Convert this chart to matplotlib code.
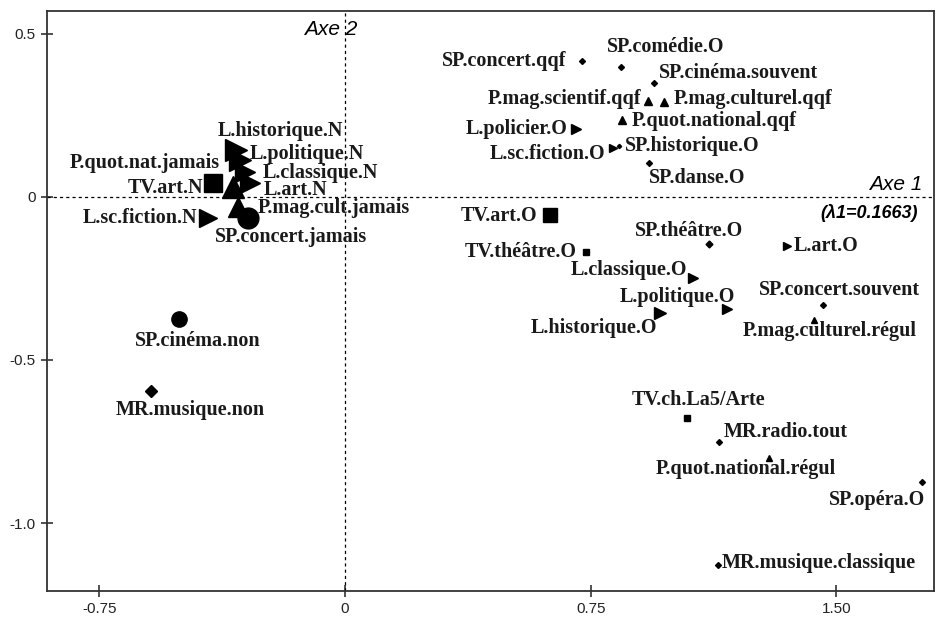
import matplotlib
matplotlib.use("Agg")
import matplotlib.pyplot as plt

# modalities and coordinates on the first factorial plane
names = ["SP.concert.qqf", "SP.comédie.O", "SP.cinéma.souvent", "P.mag.scientif.qqf",
         "P.mag.culturel.qqf", "P.quot.national.qqf", "L.policier.O", "L.sc.fiction.O",
         "SP.historique.O", "SP.danse.O", "TV.art.O", "TV.théâtre.O", "SP.théâtre.O",
         "L.art.O", "L.classique.O", "L.politique.O", "L.historique.O",
         "SP.concert.souvent", "P.mag.culturel.régul", "TV.ch.La5/Arte", "MR.radio.tout",
         "P.quot.national.régul", "SP.opéra.O", "MR.musique.classique",
         "SP.cinéma.non", "MR.musique.non",
         "L.historique.N", "L.politique.N", "L.classique.N", "L.art.N",
         "P.quot.nat.jamais", "TV.art.N", "P.mag.cult.jamais", "SP.concert.jamais",
         "L.sc.fiction.N"]
axe1 = [0.723, 0.843, 0.944, 0.926, 0.975, 0.845, 0.705, 0.819, 0.837, 0.929,
        0.626, 0.736, 1.112, 1.350, 1.061, 1.165, 0.962, 1.460, 1.433, 1.043,
        1.142, 1.294, 1.760, 1.138, -0.507, -0.592,
        -0.333, -0.321, -0.306, -0.290, -0.342, -0.403, -0.327, -0.296, -0.418]
axe2 = [0.417, 0.398, 0.349, 0.293, 0.290, 0.235, 0.207, 0.148, 0.155, 0.102,
        -0.056, -0.169, -0.146, -0.151, -0.248, -0.344, -0.357, -0.332, -0.378, -0.679,
        -0.751, -0.802, -0.875, -1.129, -0.376, -0.595,
        0.143, 0.112, 0.076, 0.042, 0.030, 0.042, -0.032, -0.065, -0.065]

# marker shape and size (points) per modality
markers = ["D", "D", "D", "^", "^", "^", ">", ">", "D", "D",
           "s", "s", "D", ">", ">", ">", ">", "D", "^", "s",
           "D", "^", "D", "D", "o", "D",
           ">", ">", ">", ">", "^", "s", "^", "o", ">"]
sizes = [3, 3, 3, 5.5, 5.5, 5.5, 7, 6, 2.2, 3,
         9.5, 5, 3.5, 6, 6.5, 7, 9, 3, 4.5, 4,
         3, 5, 3, 3, 11, 6,
         16, 16, 15, 15, 16, 12.5, 15, 15, 12.5]

# label placement: offset in pixels and horizontal alignment
offsets = [(-15, 0), (-14, 20), (5, 10), (-7, 2), (9, 3), (10, -1), (-8, 0), (-8, -6),
           (6, 0), (0, -15), (-13, -1), (-9, 0), (-20, 13), (6, 0), (-5, 8), (8, 12),
           (-3, -15), (16, 15), (15, -11), (12, 18), (5, 10), (-23, -11), (4, -18),
           (4, 2), (19, -22), (39, -19),
           (-18, 19), (10, 6), (18, -1), (14, -7), (-13, 24), (-10, -5), (20, -1),
           (-33, -19), (-11, 0)]
aligns = ["right", "left", "left", "right", "left", "left", "right", "right",
          "left", "left", "right", "right", "center", "left", "right", "right",
          "right", "center", "center", "center", "left", "center", "right",
          "left", "center", "center",
          "left", "left", "left", "left", "right", "right", "left", "left", "right"]

fig = plt.figure(figsize=(9.36, 6.18), dpi=100)
ax = fig.add_axes([0.0499, 0.0442, 0.948, 0.938])

ax.axhline(0, color="black", lw=0.9, ls=(0, (2.5, 2.5)))
ax.axvline(0, color="black", lw=0.9, ls=(0, (2.5, 2.5)))

for i in range(len(names)):
    ax.plot(axe1[i], axe2[i], marker=markers[i], ms=sizes[i], color="black",
            linestyle="none")
    ax.annotate(names[i], (axe1[i], axe2[i]), xytext=offsets[i],
                textcoords="offset pixels", ha=aligns[i], va="center",
                fontsize=14.5, family="Liberation Serif", fontweight="bold",
                color="#1a1a1a")

ax.text(-0.045, 0.511, "Axe 2", ha="center", va="center", fontsize=15,
        family="Liberation Sans", fontstyle="italic")
ax.text(1.764, 0.036, "Axe 1", ha="right", va="center", fontsize=15,
        family="Liberation Sans", fontstyle="italic")
ax.text(1.749, -0.050, "(λ1=0.1663)", ha="right", va="center", fontsize=13,
        family="Liberation Sans", fontweight="bold", fontstyle="italic")

ax.set_xlim(-0.911, 1.798)
ax.set_ylim(-1.207, 0.569)
ax.set_xticks([-0.75, 0, 0.75, 1.5])
ax.set_xticklabels(["-0.75", "0", "0.75", "1.50"])
ax.set_yticks([0.5, 0, -0.5, -1.0])
ax.set_yticklabels(["0.5", "0", "-0.5", "-1.0"])
ax.tick_params(direction="inout", length=9, width=1.1, labelsize=11, colors="#222222")
for lab in ax.get_xticklabels() + ax.get_yticklabels():
    lab.set_family("Liberation Sans")
for sp in ax.spines.values():
    sp.set_linewidth(1.3)
    sp.set_color("#333333")

fig.savefig("out.png", dpi=100)
